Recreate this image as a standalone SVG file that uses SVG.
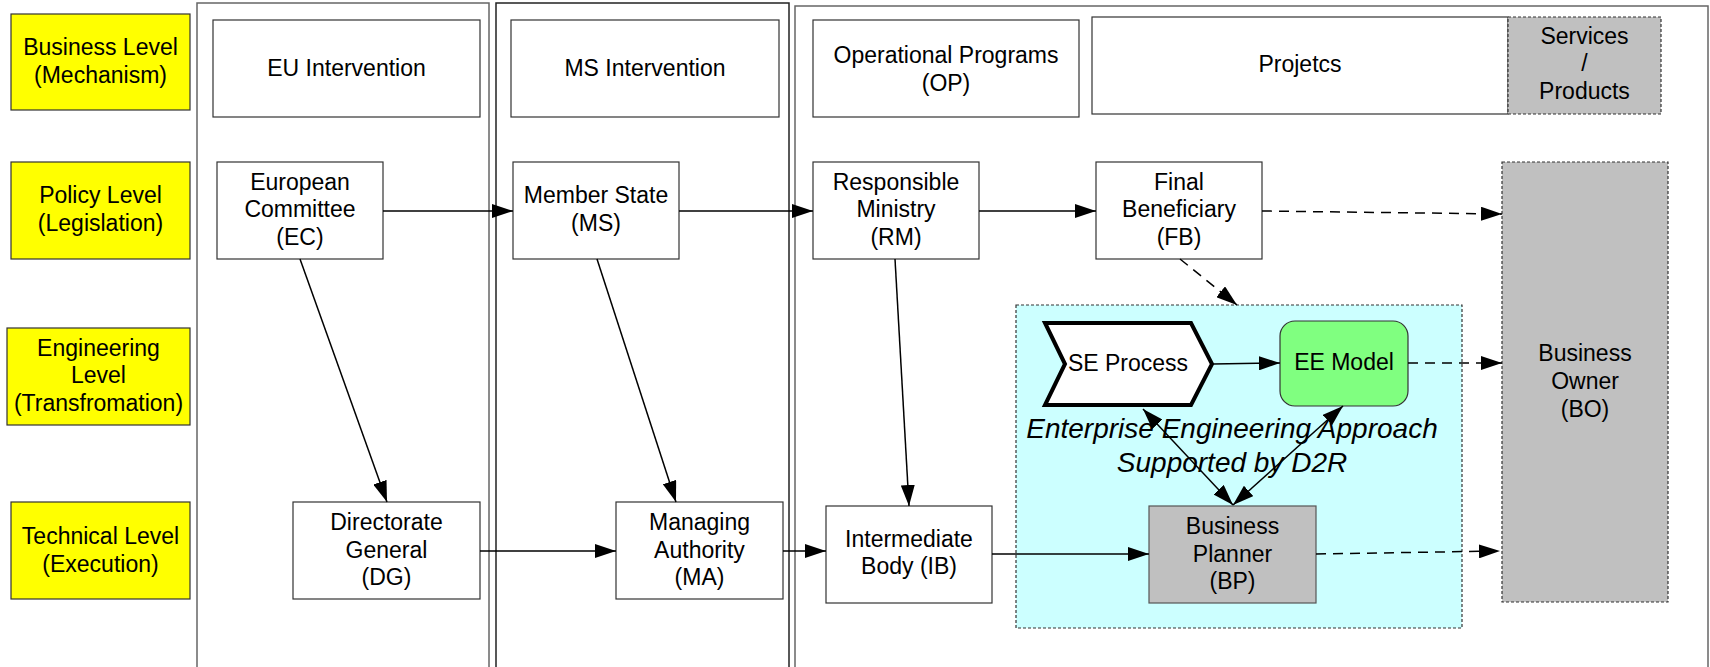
<svg xmlns="http://www.w3.org/2000/svg" width="1710" height="667" viewBox="0 0 1710 667">
<defs>
<style>
text{font-family:"Liberation Sans",Arial,sans-serif;font-size:23px;fill:#000;text-anchor:middle}
.it{font-style:italic;font-size:28px}
.lvl{fill:#FFFF00;stroke:#333;stroke-width:1.2}
.box{fill:#fff;stroke:#333;stroke-width:1.2}
.gbox{fill:#C0C0C0;stroke:#555;stroke-width:1.2}
.dbox{fill:#C0C0C0;stroke:#333;stroke-width:1.2;stroke-dasharray:3 2}
.lane{fill:none;stroke-width:1.5}
.c{fill:none;stroke:#000;stroke-width:1.5}
.d{stroke-dasharray:10 7}
.a{marker-end:url(#ah)}
.b{marker-start:url(#ah);marker-end:url(#ah)}
</style>
<marker id="ah" markerUnits="userSpaceOnUse" markerWidth="21" markerHeight="14" refX="21" refY="7" orient="auto-start-reverse" viewBox="0 0 21 14">
<path d="M0,0 L21,7 L0,14 z" fill="#000"/>
</marker>
</defs>

<g id="lanes">
<rect class="lane" x="197" y="3" width="292" height="700" stroke="#666"/>
<rect class="lane" x="496" y="3" width="293" height="700" stroke="#222"/>
<rect class="lane" x="795" y="6" width="913" height="700" stroke="#666"/>
</g>

<g id="level-business"><rect class="lvl" x="11" y="14" width="179" height="96"/><text x="100.5" y="55">Business Level</text><text x="100.5" y="83">(Mechanism)</text></g>
<g id="level-policy"><rect class="lvl" x="11" y="162" width="179" height="97"/><text x="100.5" y="203">Policy Level</text><text x="100.5" y="231">(Legislation)</text></g>
<g id="level-engineering"><rect class="lvl" x="7" y="328" width="183" height="97"/><text x="98.5" y="356">Engineering</text><text x="98.5" y="383">Level</text><text x="98.5" y="411">(Transfromation)</text></g>
<g id="level-technical"><rect class="lvl" x="11" y="502" width="179" height="97"/><text x="100.5" y="544">Technical Level</text><text x="100.5" y="572">(Execution)</text></g>

<g id="eu-intervention"><rect class="box" x="213" y="20" width="267" height="97"/><text x="346.5" y="76">EU Intervention</text></g>
<g id="ms-intervention"><rect class="box" x="511" y="20" width="268" height="97"/><text x="645" y="76">MS Intervention</text></g>
<g id="op"><rect class="box" x="813" y="20" width="266" height="97"/><text x="946" y="63">Operational Programs</text><text x="946" y="91">(OP)</text></g>
<g id="projects"><rect class="box" x="1092" y="17" width="416" height="97"/><text x="1300" y="72">Projetcs</text></g>
<g id="services"><rect class="dbox" x="1508" y="17" width="153" height="97"/><text x="1584.5" y="44">Services</text><text x="1584.5" y="71">/</text><text x="1584.5" y="99">Products</text></g>

<g id="ec"><rect class="box" x="217" y="162" width="166" height="97"/><text x="300" y="190">European</text><text x="300" y="217">Committee</text><text x="300" y="245">(EC)</text></g>
<g id="ms"><rect class="box" x="513" y="162" width="166" height="97"/><text x="596" y="203">Member State</text><text x="596" y="231">(MS)</text></g>
<g id="rm"><rect class="box" x="813" y="162" width="166" height="97"/><text x="896" y="190">Responsible</text><text x="896" y="217">Ministry</text><text x="896" y="245">(RM)</text></g>
<g id="fb"><rect class="box" x="1096" y="162" width="166" height="97"/><text x="1179" y="190">Final</text><text x="1179" y="217">Beneficiary</text><text x="1179" y="245">(FB)</text></g>
<g id="bo"><rect class="dbox" x="1502" y="162" width="166" height="440"/><text x="1585" y="361">Business</text><text x="1585" y="389">Owner</text><text x="1585" y="417">(BO)</text></g>

<g id="dg"><rect class="box" x="293" y="502" width="187" height="97"/><text x="386.5" y="530">Directorate</text><text x="386.5" y="558">General</text><text x="386.5" y="585">(DG)</text></g>
<g id="ma"><rect class="box" x="616" y="502" width="167" height="97"/><text x="699.5" y="530">Managing</text><text x="699.5" y="558">Authority</text><text x="699.5" y="585">(MA)</text></g>
<g id="ib"><rect class="box" x="826" y="506" width="166" height="97"/><text x="909" y="547">Intermediate</text><text x="909" y="574">Body (IB)</text></g>

<g id="ee-approach">
<rect x="1016" y="305" width="446" height="323" fill="#CCFFFF" stroke="#333" stroke-width="1.2" stroke-dasharray="3 2"/>
<text class="it" x="1232" y="438">Enterprise Engineering Approach</text>
<text class="it" x="1232" y="472">Supported by D2R</text>
</g>
<g id="se-process"><path d="M1045,323 L1191,323 L1212,364 L1191,405 L1045,405 L1065,364 Z" fill="#fff" stroke="#000" stroke-width="4" stroke-linejoin="miter"/><text x="1128" y="371">SE Process</text></g>
<g id="ee-model"><rect x="1280" y="321" width="128" height="85" rx="15" fill="#80FF80" stroke="#333" stroke-width="1.2"/><text x="1344" y="370">EE Model</text></g>
<g id="bp"><rect class="gbox" x="1149" y="506" width="167" height="97"/><text x="1232.5" y="534">Business</text><text x="1232.5" y="562">Planner</text><text x="1232.5" y="589">(BP)</text></g>

<g id="connectors">
<line class="c a" x1="383" y1="211" x2="513" y2="211"/>
<line class="c a" x1="679" y1="211" x2="813" y2="211"/>
<line class="c a" x1="979" y1="211" x2="1096" y2="211"/>
<line class="c d a" x1="1262" y1="211" x2="1502" y2="214"/>
<line class="c a" x1="300" y1="259" x2="387" y2="502"/>
<line class="c a" x1="597" y1="259" x2="676" y2="502"/>
<line class="c a" x1="895" y1="259" x2="909" y2="506"/>
<line class="c a" x1="480" y1="551" x2="616" y2="551"/>
<line class="c a" x1="783" y1="551" x2="826" y2="551"/>
<line class="c a" x1="992" y1="554" x2="1149" y2="554"/>
<line class="c d a" x1="1316" y1="554" x2="1500" y2="551"/>
<line class="c d a" x1="1180" y1="259" x2="1237" y2="305"/>
<line class="c a" x1="1213" y1="364" x2="1280" y2="363"/>
<line class="c d a" x1="1408" y1="363" x2="1502" y2="363"/>
<line class="c b" x1="1143" y1="409" x2="1233" y2="505"/>
<line class="c b" x1="1343" y1="406" x2="1233" y2="505"/>
</g>
</svg>
